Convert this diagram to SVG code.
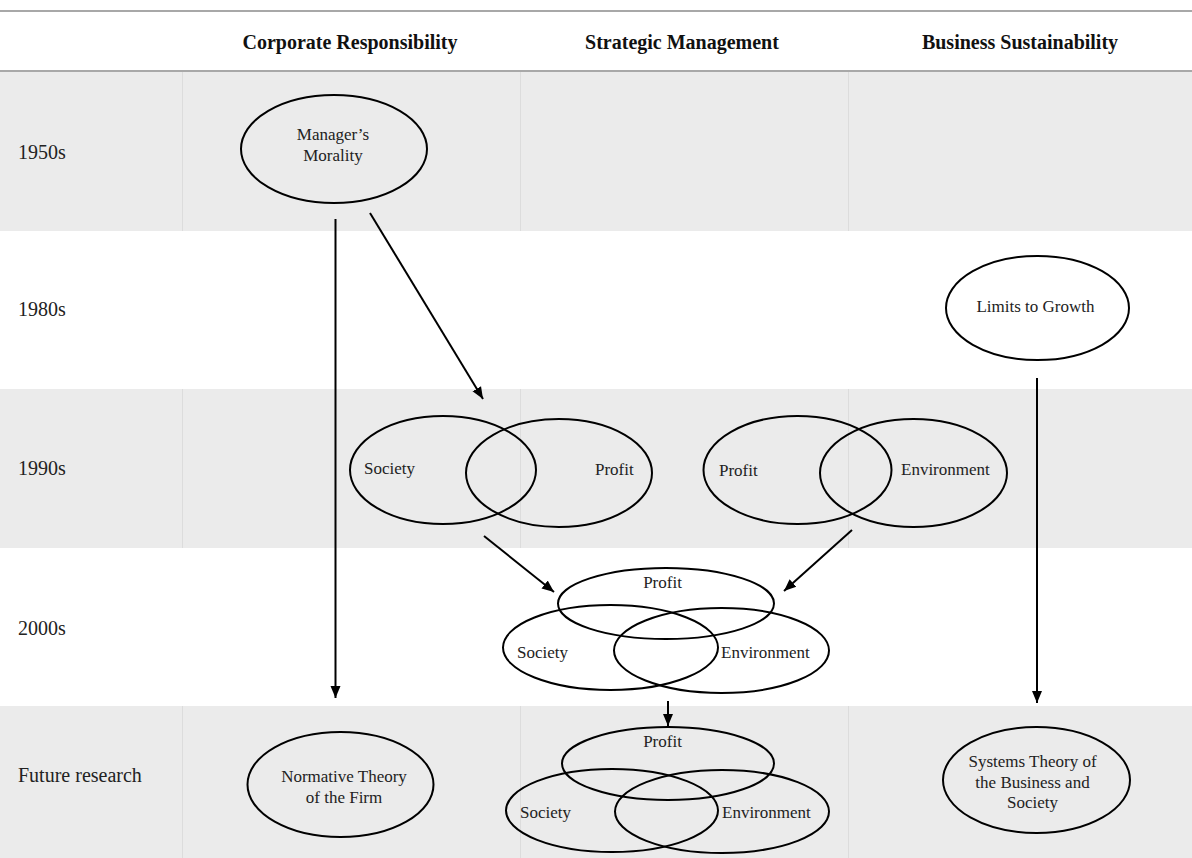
<svg xmlns="http://www.w3.org/2000/svg" width="1192" height="858" viewBox="0 0 1192 858">
<style>
.band{fill:#ebebeb}
.sep{stroke:#dcdcdc;stroke-width:1}
.rule{stroke:#a8a8a8;stroke-width:2}
.hdr{font-family:"Liberation Serif","Times New Roman",serif;font-weight:bold;font-size:20px;fill:#111;text-anchor:middle}
.row{font-family:"Liberation Serif","Times New Roman",serif;font-size:20px;fill:#222}
.ell{fill:none;stroke:#000;stroke-width:2}
.lbl{font-family:"Liberation Serif","Times New Roman",serif;font-size:17px;fill:#222}
.mid{text-anchor:middle}
.conn{stroke:#000;stroke-width:2;fill:none;marker-end:url(#arr)}
</style>
<defs>
<marker id="arr" markerUnits="userSpaceOnUse" markerWidth="14" markerHeight="12" refX="12" refY="6" orient="auto">
<path d="M0,1 L12,6 L0,11 Z" fill="#000"/>
</marker>
</defs>
<rect width="1192" height="858" fill="#fff"/>
<g id="table">
<rect class="band" x="0" y="72" width="1192" height="159"/>
<rect class="band" x="0" y="389" width="1192" height="159"/>
<rect class="band" x="0" y="706" width="1192" height="152"/>
<line class="sep" x1="182.5" y1="72" x2="182.5" y2="231"/>
<line class="sep" x1="520.5" y1="72" x2="520.5" y2="231"/>
<line class="sep" x1="848.5" y1="72" x2="848.5" y2="231"/>
<line class="sep" x1="182.5" y1="389" x2="182.5" y2="548"/>
<line class="sep" x1="520.5" y1="389" x2="520.5" y2="548"/>
<line class="sep" x1="848.5" y1="389" x2="848.5" y2="548"/>
<line class="sep" x1="182.5" y1="706" x2="182.5" y2="858"/>
<line class="sep" x1="520.5" y1="706" x2="520.5" y2="858"/>
<line class="sep" x1="848.5" y1="706" x2="848.5" y2="858"/>
<line class="rule" x1="0" y1="11" x2="1192" y2="11"/>
<line class="rule" x1="0" y1="71" x2="1192" y2="71"/>
<text class="hdr" x="350" y="49">Corporate Responsibility</text>
<text class="hdr" x="682" y="49">Strategic Management</text>
<text class="hdr" x="1020" y="49">Business Sustainability</text>
<text class="row" x="18" y="159">1950s</text>
<text class="row" x="18" y="316">1980s</text>
<text class="row" x="18" y="475">1990s</text>
<text class="row" x="18" y="635">2000s</text>
<text class="row" x="18" y="782">Future research</text>
</g>
<g id="connectors">
<line class="conn" x1="335.5" y1="219" x2="335.5" y2="698"/>
<line class="conn" x1="370" y1="213" x2="483" y2="399"/>
<line class="conn" x1="1037" y1="378" x2="1037" y2="703"/>
<line class="conn" x1="484" y1="536" x2="554" y2="592"/>
<line class="conn" x1="852" y1="530" x2="784" y2="591"/>
<line class="conn" x1="668" y1="701" x2="668" y2="726"/>
</g>
<g id="managers-morality">
<ellipse class="ell" cx="334" cy="149" rx="93" ry="54"/>
<text class="lbl mid" x="333" y="140">Manager’s</text>
<text class="lbl mid" x="333" y="161">Morality</text>
</g>
<g id="limits-to-growth">
<ellipse class="ell" cx="1037.5" cy="308" rx="91.5" ry="52"/>
<text class="lbl mid" x="1035.5" y="312">Limits to Growth</text>
</g>
<g id="venn-society-profit">
<ellipse class="ell" cx="443" cy="470" rx="93" ry="54"/>
<ellipse class="ell" cx="559" cy="473" rx="93" ry="54"/>
<text class="lbl" x="364" y="474">Society</text>
<text class="lbl" x="595" y="475">Profit</text>
</g>
<g id="venn-profit-environment">
<ellipse class="ell" cx="797.5" cy="470" rx="94" ry="54"/>
<ellipse class="ell" cx="913.5" cy="473" rx="93.5" ry="54"/>
<text class="lbl" x="719" y="476">Profit</text>
<text class="lbl" x="901" y="475">Environment</text>
</g>
<g id="venn-2000s">
<ellipse class="ell" cx="666" cy="603.5" rx="108" ry="35.5"/>
<ellipse class="ell" cx="610.5" cy="647.5" rx="107.5" ry="42.5"/>
<ellipse class="ell" cx="721.5" cy="650.5" rx="107.5" ry="42.5"/>
<text class="lbl mid" x="662.5" y="588">Profit</text>
<text class="lbl" x="517" y="658">Society</text>
<text class="lbl" x="721" y="658">Environment</text>
</g>
<g id="normative-theory">
<ellipse class="ell" cx="340.5" cy="784.5" rx="93" ry="52.5"/>
<text class="lbl mid" x="344" y="782">Normative Theory</text>
<text class="lbl mid" x="344" y="803">of the Firm</text>
</g>
<g id="venn-future">
<ellipse class="ell" cx="668" cy="763.5" rx="106" ry="36.5"/>
<ellipse class="ell" cx="612" cy="810.5" rx="106" ry="41.5"/>
<ellipse class="ell" cx="722" cy="811.5" rx="107" ry="41.5"/>
<text class="lbl mid" x="662.5" y="747">Profit</text>
<text class="lbl" x="520" y="818">Society</text>
<text class="lbl" x="722" y="818">Environment</text>
</g>
<g id="systems-theory">
<ellipse class="ell" cx="1036.5" cy="780" rx="93.5" ry="53"/>
<text class="lbl mid" x="1032.5" y="767">Systems Theory of</text>
<text class="lbl mid" x="1032.5" y="788">the Business and</text>
<text class="lbl mid" x="1032.5" y="808">Society</text>
</g>
</svg>
